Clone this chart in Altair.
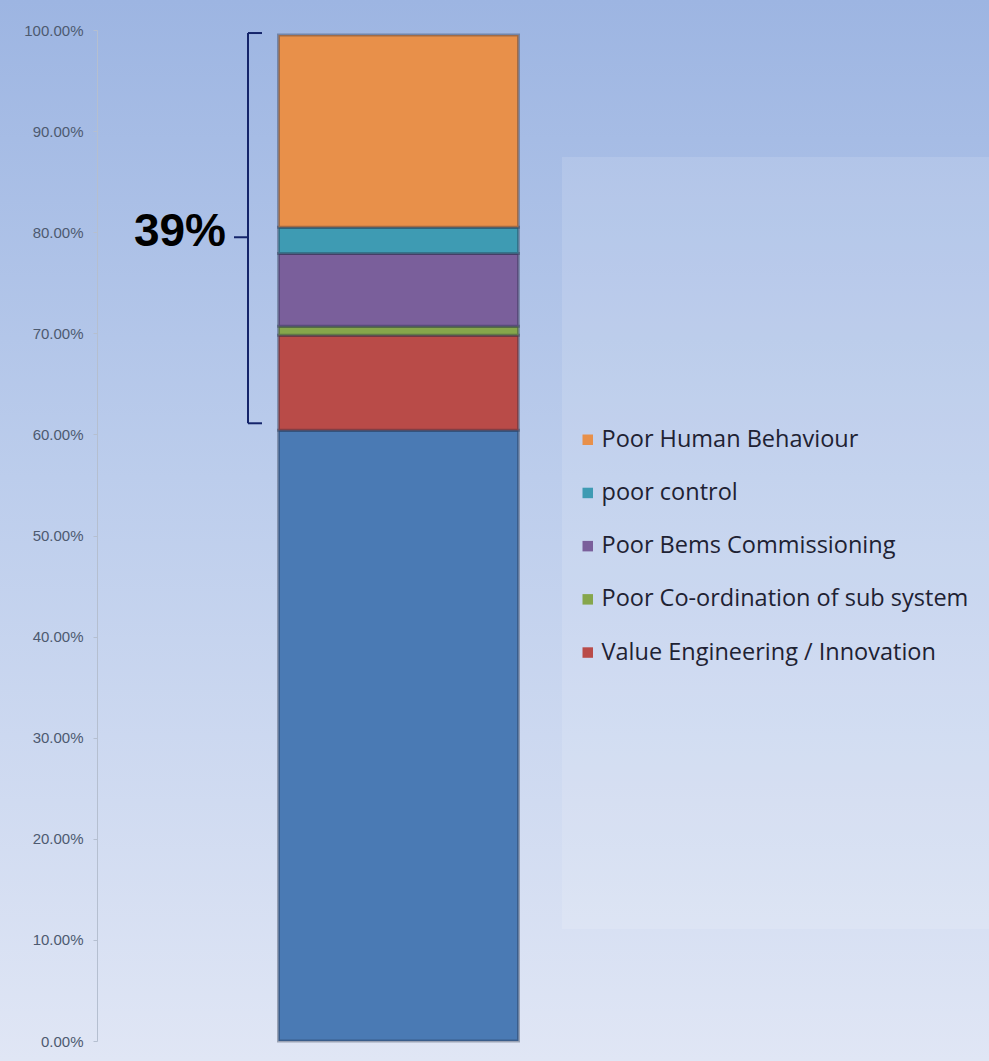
import altair as alt
import pandas as pd

# ---- data ----
categories = [
    "Other",
    "Value Engineering / Innovation",
    "Poor Co-ordination of sub system",
    "Poor Bems Commissioning",
    "poor control",
    "Poor Human Behaviour",
]
shares = [0.604, 0.094, 0.009, 0.072, 0.026, 0.190]
stack_order = [1, 2, 3, 4, 5, 6]
colors = ["#4a7ab4", "#b94b48", "#86a64b", "#7a5f9b", "#3e9bb3", "#e8904a"]
legend_entries = [
    "Poor Human Behaviour",
    "poor control",
    "Poor Bems Commissioning",
    "Poor Co-ordination of sub system",
    "Value Engineering / Innovation",
]
y_ticks = [0.0, 0.1, 0.2, 0.3, 0.4, 0.5, 0.6, 0.7, 0.8, 0.9, 1.0]
brace_low, brace_high, brace_tip = 0.611, 0.997, 0.795
annotation_text = ["39%"]
annotation_y = [0.80]

df = pd.DataFrame({"bar": ["A"] * len(categories), "cause": categories,
                   "share": shares, "ord": stack_order})

W, H = 603, 1011
PL, PT = 97, 30

one = pd.DataFrame({"k": [0]})

bg = alt.Chart(one).mark_rect(
    fill=alt.Gradient(
        gradient="linear",
        stops=[alt.GradientStop(color="#9db5e2", offset=0),
               alt.GradientStop(color="#bccdec", offset=0.45),
               alt.GradientStop(color="#e0e6f5", offset=1)],
        x1=0, x2=0, y1=0, y2=1,
    )
).encode(x=alt.value(-PL), x2=alt.value(989 - PL), y=alt.value(-PT), y2=alt.value(1061 - PT))

panel = alt.Chart(one).mark_rect(fill="white", opacity=0.13).encode(
    x=alt.value(562 - PL), x2=alt.value(989 - PL), y=alt.value(157 - PT), y2=alt.value(929 - PT)
)

color_scale = alt.Scale(domain=legend_entries + ["Other"],
                        range=[colors[5], colors[4], colors[3], colors[2], colors[1], colors[0]])

bars = alt.Chart(df).mark_bar(size=240, stroke="#1c2740", strokeOpacity=0.35, strokeWidth=3).encode(
    x=alt.X("bar:N", axis=None, scale=alt.Scale(paddingInner=0, paddingOuter=0.75)),
    y=alt.Y("share:Q", stack="zero",
            scale=alt.Scale(domain=[0, 1], nice=False),
            axis=alt.Axis(values=y_ticks, format=".2%", title=None, grid=False, zindex=1,
                          labelFont="Liberation Sans", labelFontSize=15, labelColor="#4d5a70",
                          tickSize=4, tickColor="#b5bfd0", labelPadding=10,
                          domainColor="#b5bfd0", labelBaseline="middle")),
    color=alt.Color("cause:N", scale=color_scale,
                    legend=alt.Legend(values=legend_entries, title=None, orient="none",
                                      legendX=479, legendY=398, symbolType="square",
                                      symbolSize=110, symbolStrokeWidth=0,
                                      labelFont="Open Sans", labelFontSize=23.5,
                                      labelColor="#1e2233", labelLimit=500,
                                      rowPadding=28.2, labelOffset=2, zindex=2)),
    order=alt.Order("ord:Q"),
)

brace_df = pd.DataFrame({"lo": [brace_low], "hi": [brace_high], "tip": [brace_tip]})
brace_color = "#14246a"
brace_v = alt.Chart(brace_df).mark_rule(color=brace_color, strokeWidth=2).encode(
    x=alt.value(151), y="lo:Q", y2="hi:Q")
brace_top = alt.Chart(brace_df).mark_rule(color=brace_color, strokeWidth=2).encode(
    x=alt.value(151), x2=alt.value(165), y="hi:Q")
brace_bot = alt.Chart(brace_df).mark_rule(color=brace_color, strokeWidth=2).encode(
    x=alt.value(151), x2=alt.value(165), y="lo:Q")
brace_mid = alt.Chart(brace_df).mark_rule(color=brace_color, strokeWidth=2).encode(
    x=alt.value(137), x2=alt.value(151), y="tip:Q")

ann_df = pd.DataFrame({"t": annotation_text, "y": annotation_y})
ann = alt.Chart(ann_df).mark_text(font="Liberation Sans", fontWeight="bold", fontSize=46,
                                  align="right", baseline="middle", color="black").encode(
    x=alt.value(129), y="y:Q", text="t:N")

chart = alt.layer(bg, panel, bars, brace_v, brace_top, brace_bot, brace_mid, ann).properties(
    width=W, height=H,
    autosize=alt.AutoSizeParams(type="none"),
    padding={"left": PL, "top": PT, "right": 989 - PL - W, "bottom": 1061 - PT - H},
    background="#dfe5f4",
).configure_view(stroke=None)

chart.save("out.html", embed_options={"renderer": "svg", "actions": False})
